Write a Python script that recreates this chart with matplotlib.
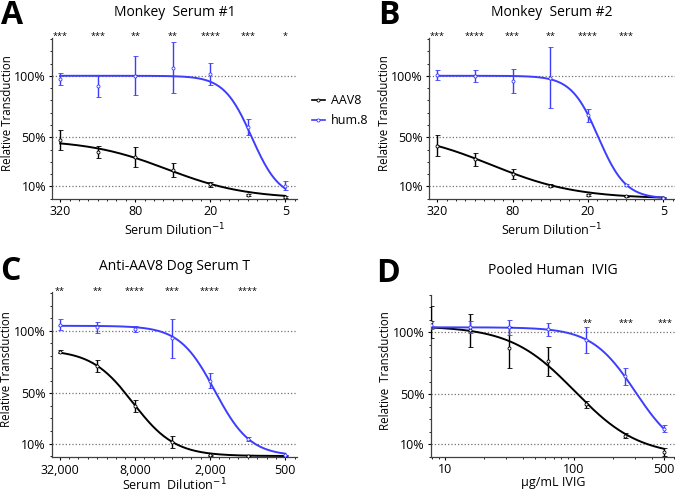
import numpy as np
import matplotlib
matplotlib.use("Agg")
import matplotlib.pyplot as plt
from matplotlib.lines import Line2D

plt.rcParams["font.family"] = ["Open Sans", "DejaVu Sans"]

# Dilutions / concentrations
dil_monkey = [320, 160, 80, 40, 20, 10, 5]
dil_dog = [32000, 16000, 8000, 4000, 2000, 1000, 500]
ivig = [7.8125, 15.625, 31.25, 62.5, 125, 250, 500]

# Panel A: Monkey Serum #1
a_aav8 = [47.6, 38, 34, 23.4, 11.9, 3, 1.4]
a_aav8_err = [8, 5, 8, 6, 2, 1, 0.5]
a_hum8 = [97.3, 92, 100, 106.7, 101.3, 58.3, 10.7]
a_hum8_err = [5, 9, 16, 21, 9, 6.7, 4]
a_stars = ["***", "***", "**", "**", "****", "***", "*"]

# Panel B: Monkey Serum #2
b_aav8 = [43, 32, 20, 10.7, 3.2, 1.9, 0.8]
b_aav8_err = [8.5, 5, 4, 1.5, 0.8, 0.5, 0.5]
b_hum8 = [100.5, 100, 95.7, 98.6, 67.7, 11.3, 0.8]
b_hum8_err = [4, 5, 10, 24.5, 5, 1, 0.5]
b_stars = ["***", "****", "***", "**", "****", "***", ""]

# Panel C: Anti-AAV8 Dog Serum T
c_aav8 = [83.4, 71.9, 39.8, 11.3, 0.6, 0.2, 0.2]
c_aav8_err = [1.5, 5, 5, 4.5, 0.5, 0.3, 0.3]
c_hum8 = [104.8, 102.7, 101.3, 94, 60, 13.5, 0.6]
c_hum8_err = [4.5, 4.5, 2.5, 15.8, 6, 1.5, 0.5]
c_stars = ["**", "**", "****", "***", "****", "****", ""]

# Panel D: Pooled Human IVIG
d_aav8 = [108, 101.5, 87.6, 76.5, 42, 16.7, 3.6]
d_aav8_err = [13, 13, 16.5, 11.5, 3, 2, 3]
d_hum8 = [106, 104.3, 103.9, 102.3, 94, 64.4, 22.4]
d_hum8_err = [3, 5, 6, 5, 10.5, 7, 3]
d_stars = ["", "", "", "", "**", "***", "***"]

# 4PL fit parameters: top, bottom, midpoint, hill
fit_a = [(48, 0, 44.4, 1.37), (100, 0, 9.3, 3.9)]
fit_b = [(55, 0, 118, 1.28), (100, 0, 16.5, 4.0)]
fit_c = [(85, 0, 8265, 2.6), (104, 0, 1830, 3.07)]
fit_d = [(105, 0, 101.6, 1.74), (104, 0, 300, 2.56)]

BLUE = "#3d3dff"
colors = ["black", BLUE]


def curve_dil(d, top, bottom, mid, h):
    return bottom + (top - bottom) / (1 + (mid / d) ** h)


def curve_conc(c, top, bottom, mid, h):
    return bottom + (top - bottom) / (1 + (c / mid) ** h)


fig = plt.figure(figsize=(6.75, 4.92), dpi=100)
W, H = 675, 492


def make_ax(l, r, t, b):
    return fig.add_axes([l / W, 1 - b / H, (r - l) / W, (b - t) / H])


axA = make_ax(52.3, 297, 37.7, 198.7)
axB = make_ax(429.3, 675, 37.7, 198.7)
axC = make_ax(51.7, 297, 292, 457.3)
axD = make_ax(430.7, 675, 295, 456.5)

panels = [
    (axA, dil_monkey, [a_aav8, a_hum8], [a_aav8_err, a_hum8_err], fit_a, a_stars, "A", "Monkey  Serum #1"),
    (axB, dil_monkey, [b_aav8, b_hum8], [b_aav8_err, b_hum8_err], fit_b, b_stars, "B", "Monkey  Serum #2"),
    (axC, dil_dog, [c_aav8, c_hum8], [c_aav8_err, c_hum8_err], fit_c, c_stars, "C", "Anti-AAV8 Dog Serum T"),
    (axD, ivig, [d_aav8, d_hum8], [d_aav8_err, d_hum8_err], fit_d, d_stars, "D", "Pooled Human  IVIG"),
]

for ax, x, ys, errs, fits, stars, letter, title in panels:
    is_d = letter == "D"
    xx = np.geomspace(min(x), max(x), 300)
    for y, e, f, col in zip(ys, errs, fits, colors):
        if is_d:
            yy = curve_conc(xx, *f)
        else:
            yy = curve_dil(xx, *f)
        ax.plot(xx, yy, color=col, lw=1.4, zorder=3)
        ax.errorbar(x, y, yerr=e, fmt="o", ms=2.2, mfc="white", mec=col, mew=0.6,
                    ecolor=col, elinewidth=1.0, capsize=1.8, capthick=0.8, zorder=4)

    for v in [10, 50, 100]:
        ax.axhline(v, ls=":", color="0.45", lw=0.9, zorder=1)

    if is_d:
        ax.set_xscale("log")
        ax.set_xlim(7.75, 608)
        ax.set_xticks([10, 100, 500])
        ax.set_xticklabels(["10", "100", "500"])
        ax.set_ylim(0, 125)
        ax.set_xlabel("µg/mL IVIG", fontsize=9, labelpad=0)
        for xi, s in zip(x, stars):
            ax.text(xi * 1.02, 107, s, ha="center", va="center", fontsize=6.5)
    else:
        ax.set_xscale("log", base=2)
        ax.set_xlim(x[0] * 2 ** 0.21, x[-1] / 2 ** 0.31)
        ax.set_xticks(x[::2])
        ax.set_xticklabels([f"{v:,}" for v in x[::2]])
        ax.set_xticks([x[0] * 2 ** (-k / 4) for k in range(0, 26)], minor=True)
        ax.set_ylim(-1 if letter == "C" else 0, 131)
        ax.set_xlabel("Serum  Dilution$^{-1}$" if letter == "C" else "Serum Dilution$^{-1}$",
                      fontsize=9, labelpad=0 if letter == "C" else 3)
        for xi, s in zip(x, stars):
            ax.text(xi, 0.99, s, ha="center", va="baseline", fontsize=6.5,
                    transform=ax.get_xaxis_transform())
    ax.xaxis.set_minor_formatter(plt.NullFormatter())

    ax.set_yticks([10, 50, 100])
    ax.set_yticklabels(["10%", "50%", "100%"])
    ax.set_yticks(np.arange(0, 131, 10), minor=True)
    ax.tick_params(axis="both", which="major", labelsize=9, length=2.5, width=0.8, pad=2)
    ax.tick_params(axis="both", which="minor", length=1.5, width=0.6)
    ax.set_ylabel("Relative  Transduction" if is_d else "Relative Transduction", fontsize=8.3)
    bb = ax.get_position()
    ax.yaxis.set_label_coords(-38.5 / (bb.width * W), 0.535)
    for sp in ["top", "right"]:
        ax.spines[sp].set_visible(False)
    for sp in ["left", "bottom"]:
        ax.spines[sp].set_color("0.25")
        ax.spines[sp].set_linewidth(0.9)

    fig.text((bb.x0 + bb.x1) / 2, bb.y1 + 25 / H, title, ha="center", va="center", fontsize=10)

# panel letters
fig.text(1 / W, 1 - 15 / H, "A", fontsize=23, fontweight="bold", va="center", ha="left")
fig.text(378 / W, 1 - 15 / H, "B", fontsize=23, fontweight="bold", va="center", ha="left")
fig.text(0 / W, 1 - 272 / H, "C", fontsize=23, fontweight="bold", va="center", ha="left")
fig.text(376 / W, 1 - 274 / H, "D", fontsize=23, fontweight="bold", va="center", ha="left")

handles = [Line2D([], [], color=c, lw=1.2, marker="o", ms=2.2, mfc="white", mew=0.6)
           for c in colors]
fig.legend(handles, ["AAV8", "hum.8"], loc="upper left", bbox_to_anchor=(312 / W, 1 - 94 / H),
           frameon=False, fontsize=9, handlelength=1.0, handletextpad=0.5, labelspacing=0.55,
           borderaxespad=0, borderpad=0)

fig.savefig("out.png", dpi=100)
